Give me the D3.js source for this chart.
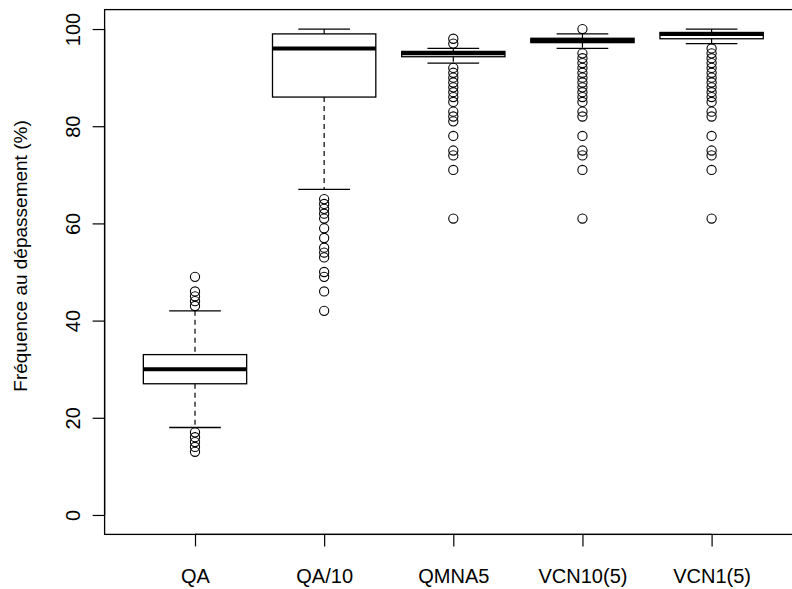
<!DOCTYPE html>
<html>
<head>
<meta charset="utf-8">
<script src="https://cdn.jsdelivr.net/npm/d3@7"></script>
<style>
  html, body { margin: 0; padding: 0; background: #fff; }
  svg { display: block; }
  text { font-family: "Liberation Sans", Arial, Helvetica, sans-serif; fill: #000; }
</style>
</head>
<body>
<svg id="chart" width="792" height="589"></svg>
<script>
// ---- Data ----
const categories    = ["QA", "QA/10", "QMNA5", "VCN10(5)", "VCN1(5)"];
const lowerWhisker  = [18, 67, 93, 96, 97];
const lowerHinge    = [27, 86, 94.3, 97.2, 98];
const medians       = [30, 96, 95, 97.7, 99];
const upperHinge    = [33, 99, 95.4, 98.1, 99.3];
const upperWhisker  = [42, 100, 96, 99, 100];
const outliersQA      = [49, 46, 45, 44, 43, 17, 16, 15, 14, 13];
const outliersQA10    = [65, 64, 63, 62, 61, 59, 57, 55, 54, 53, 50, 49, 46, 42];
const outliersQMNA5   = [98, 97, 92, 91, 90, 89, 88, 87, 86, 85, 83, 82, 81, 78, 75, 74, 71, 61];
const outliersVCN10   = [100, 95, 94, 93, 92, 91, 90, 89, 88, 87, 86, 85, 83, 82, 78, 75, 74, 71, 61];
const outliersVCN1    = [96, 95, 94, 93, 92, 91, 90, 89, 88, 87, 86, 85, 83, 82, 78, 75, 74, 71, 61];
const outlierSets   = [outliersQA, outliersQA10, outliersQMNA5, outliersVCN10, outliersVCN1];
const yTicks        = [0, 20, 40, 60, 80, 100];
const yLabel        = "Fréquence au dépassement (%)";

// ---- Layout ----
const svg = d3.select("#chart");
const plotLeft = 104.6, plotRight = 802, plotTop = 9.6, plotBottom = 534.4;

const x = d3.scalePoint().domain(categories).range([plotLeft, plotRight]).padding(0.7);
const y = d3.scaleLinear().domain([-4, 104]).range([plotBottom, plotTop]);
const boxW = x.step() * 0.8;
const capW = boxW * 0.5;

const boxes = categories.map((c, i) => ({
  cat: c, lw: lowerWhisker[i], q1: lowerHinge[i], med: medians[i],
  q3: upperHinge[i], uw: upperWhisker[i], out: outlierSets[i]
}));

const g = svg.append("g");

const bg = g.selectAll("g.box").data(boxes).join("g").attr("class", "box");

// whiskers (dashed)
bg.append("line")
  .attr("x1", d => x(d.cat)).attr("x2", d => x(d.cat))
  .attr("y1", d => y(d.uw)).attr("y2", d => y(d.q3))
  .attr("stroke", "#000").attr("stroke-width", 1.2).attr("stroke-dasharray", "5,4");
bg.append("line")
  .attr("x1", d => x(d.cat)).attr("x2", d => x(d.cat))
  .attr("y1", d => y(d.q1)).attr("y2", d => y(d.lw))
  .attr("stroke", "#000").attr("stroke-width", 1.2).attr("stroke-dasharray", "5,4");
// staples
bg.append("line")
  .attr("x1", d => x(d.cat) - capW / 2).attr("x2", d => x(d.cat) + capW / 2)
  .attr("y1", d => y(d.uw)).attr("y2", d => y(d.uw))
  .attr("stroke", "#000").attr("stroke-width", 1.3);
bg.append("line")
  .attr("x1", d => x(d.cat) - capW / 2).attr("x2", d => x(d.cat) + capW / 2)
  .attr("y1", d => y(d.lw)).attr("y2", d => y(d.lw))
  .attr("stroke", "#000").attr("stroke-width", 1.3);
// box
bg.append("rect")
  .attr("x", d => x(d.cat) - boxW / 2).attr("width", boxW)
  .attr("y", d => y(d.q3)).attr("height", d => y(d.q1) - y(d.q3))
  .attr("fill", "#fff").attr("stroke", "#000").attr("stroke-width", 1.3);
// median
bg.append("line")
  .attr("x1", d => x(d.cat) - boxW / 2).attr("x2", d => x(d.cat) + boxW / 2)
  .attr("y1", d => y(d.med)).attr("y2", d => y(d.med))
  .attr("stroke", "#000").attr("stroke-width", 4);
// outliers
bg.each(function(d) {
  d3.select(this).selectAll("circle").data(d.out).join("circle")
    .attr("cx", x(d.cat)).attr("cy", v => y(v)).attr("r", 4.6)
    .attr("fill", "none").attr("stroke", "#000").attr("stroke-width", 1.1);
});

// frame
svg.append("rect")
  .attr("x", plotLeft).attr("y", plotTop)
  .attr("width", plotRight - plotLeft).attr("height", plotBottom - plotTop)
  .attr("fill", "none").attr("stroke", "#000").attr("stroke-width", 1.3);

// y axis
const yAxis = svg.append("g")
  .attr("transform", `translate(${plotLeft},0)`)
  .call(d3.axisLeft(y).tickValues(yTicks).tickSize(12).tickSizeOuter(0));
yAxis.select(".domain").attr("d", `M0,${y(0)}V${y(100)}`).attr("stroke-width", 1.3);
yAxis.selectAll(".tick line").attr("stroke-width", 1.2);
yAxis.selectAll(".tick text")
  .attr("transform", "rotate(-90)")
  .attr("x", 0).attr("y", -24.6).attr("dy", 0)
  .attr("text-anchor", "middle")
  .style("font-size", "20px").style("font-family", "'Liberation Sans', Arial, sans-serif");

// x axis
const xAxis = svg.append("g")
  .attr("transform", `translate(0,${plotBottom})`)
  .call(d3.axisBottom(x).tickSize(12).tickSizeOuter(0));
xAxis.select(".domain").attr("d", `M${x(categories[0])},0H${x(categories[categories.length-1])}`).attr("stroke-width", 1.3);
xAxis.selectAll(".tick line").attr("stroke-width", 1.2);
xAxis.selectAll(".tick text")
  .attr("y", 48.6).attr("dy", 0)
  .style("font-size", "20px").style("font-family", "'Liberation Sans', Arial, sans-serif");

// y label
svg.append("text")
  .attr("transform", `translate(27,256) rotate(-90)`)
  .attr("text-anchor", "middle")
  .style("font-size", "19px")
  .text(yLabel);
</script>
</body>
</html>
